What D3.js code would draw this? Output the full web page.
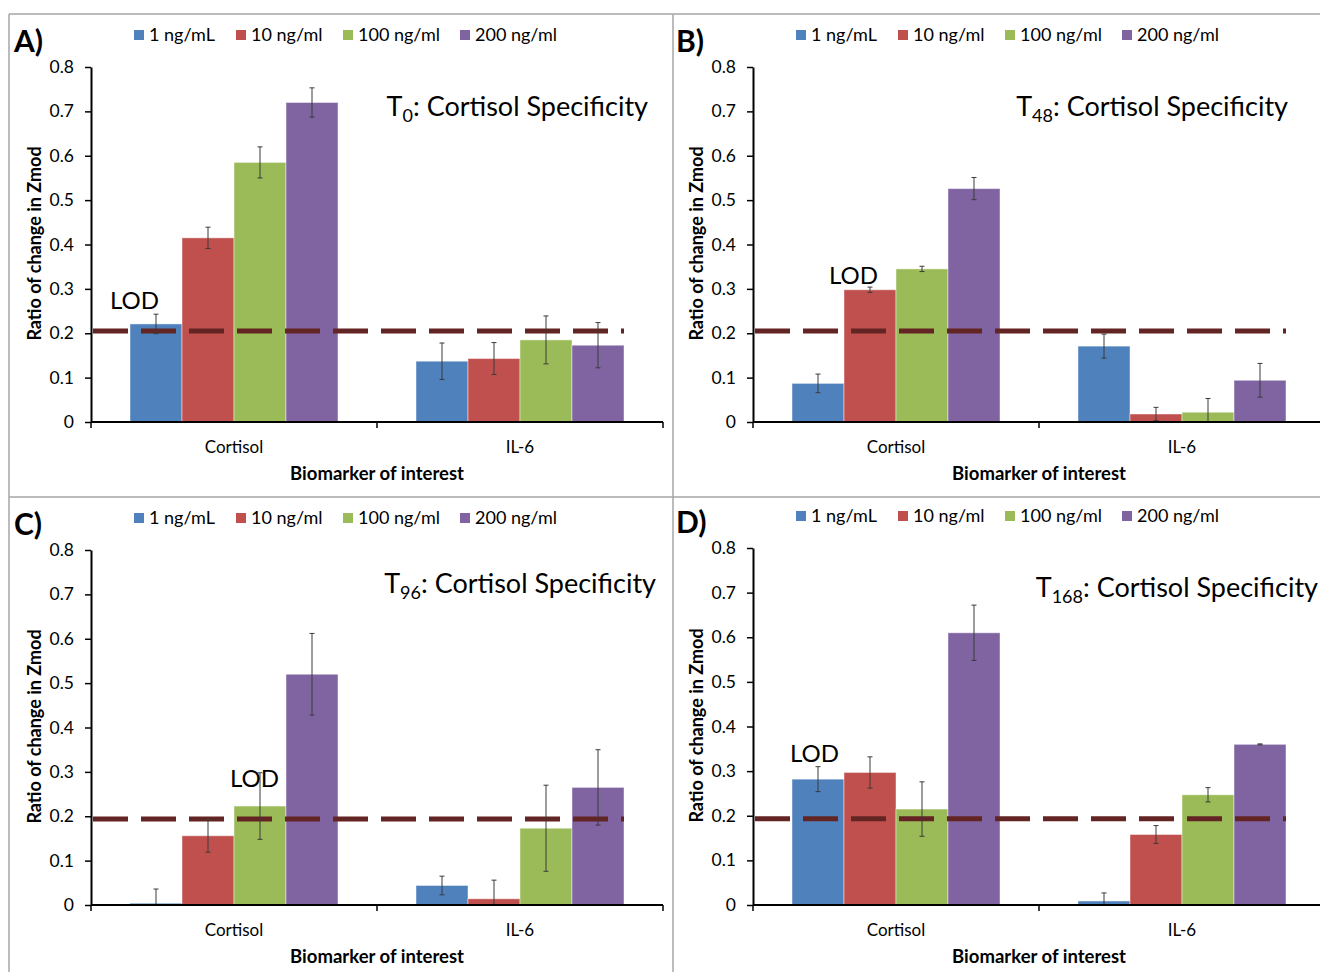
<!DOCTYPE html>
<html>
<head>
<meta charset="utf-8">
<script src="https://cdn.jsdelivr.net/npm/d3@7/dist/d3.min.js"></script>
<style>
  body { margin: 0; background: #fff; }
  svg { display: block; font-family: Lato, "Open Sans", sans-serif; }
</style>
</head>
<body>
<svg id="chart" width="1320" height="972"></svg>
<script>
// data
var categories = ["Cortisol", "IL-6"];
var seriesNames = ["1 ng/mL", "10 ng/ml", "100 ng/ml", "200 ng/ml"];
var seriesColors = ["#4F81BD", "#C0504D", "#9BBB59", "#8064A2"];
var yTicks = [0, 0.1, 0.2, 0.3, 0.4, 0.5, 0.6, 0.7, 0.8];

// values per category, one entry per series
var valuesA = [[0.221, 0.415, 0.585, 0.720], [0.137, 0.143, 0.185, 0.173]];
var errorsA = [[0.022, 0.024, 0.035, 0.033], [0.041, 0.036, 0.054, 0.051]];
var valuesB = [[0.087, 0.298, 0.345, 0.526], [0.171, 0.018, 0.022, 0.094]];
var errorsB = [[0.021, 0.006, 0.006, 0.025], [0.027, 0.015, 0.031, 0.038]];
var valuesC = [[0.004, 0.156, 0.223, 0.520], [0.044, 0.014, 0.173, 0.265]];
var errorsC = [[0.032, 0.037, 0.075, 0.092], [0.021, 0.042, 0.097, 0.085]];
var valuesD = [[0.282, 0.297, 0.215, 0.610], [0.009, 0.158, 0.247, 0.360]];
var errorsD = [[0.028, 0.035, 0.061, 0.062], [0.018, 0.020, 0.016, 0.001]];
var lodValues = [0.205, 0.205, 0.194, 0.193];
var panelLetters = ["A)", "B)", "C)", "D)"];
var timeSubs = ["0", "48", "96", "168"];

// layout of each panel (plot area in pixels + where the free text boxes sit)
var panels = [
  {left: 91,  top: 67,  bottom: 422, titleRight: 648,  titleY: 107, lodX: 110, lodY: 300, values: valuesA, errors: errorsA},
  {left: 753, top: 67,  bottom: 422, titleRight: 1288, titleY: 107, lodX: 829, lodY: 275, values: valuesB, errors: errorsB},
  {left: 91,  top: 550, bottom: 905, titleRight: 656,  titleY: 584, lodX: 230, lodY: 778, values: valuesC, errors: errorsC},
  {left: 753, top: 548, bottom: 905, titleRight: 1318, titleY: 588, lodX: 790, lodY: 753, values: valuesD, errors: errorsD}
];
var plotWidth = 572;

var svg = d3.select("#chart");

// panel frames
var frame = svg.append("g").attr("stroke", "#a6a6a6").attr("stroke-width", 1.5);
frame.append("line").attr("x1", 9).attr("x2", 1320).attr("y1", 14).attr("y2", 14);
frame.append("line").attr("x1", 9).attr("x2", 1320).attr("y1", 497).attr("y2", 497);
frame.append("line").attr("x1", 9).attr("x2", 9).attr("y1", 14).attr("y2", 972);
frame.append("line").attr("x1", 673).attr("x2", 673).attr("y1", 14).attr("y2", 972);

panels.forEach(function(p, pi){
  var g = svg.append("g");

  var x0 = d3.scaleBand().domain(categories).range([p.left, p.left + plotWidth]).padding(0);
  var x1 = d3.scaleBand().domain(seriesNames).range([0, x0.bandwidth()]).paddingInner(0).paddingOuter(0.75);
  var y = d3.scaleLinear().domain([0, 0.8]).range([p.bottom, p.top]);

  // bars
  categories.forEach(function(cat, ci){
    var grp = g.append("g").attr("transform", "translate(" + x0(cat) + ",0)");
    grp.selectAll("rect").data(p.values[ci]).enter().append("rect")
      .attr("x", function(d, i){ return x1(seriesNames[i]); })
      .attr("y", function(d){ return y(d); })
      .attr("width", x1.bandwidth())
      .attr("height", function(d){ return y(0) - y(d); })
      .attr("fill", function(d, i){ return seriesColors[i]; })
      .attr("stroke", "rgba(255,255,255,0.45)")
      .attr("stroke-width", 1);
  });

  // LOD dashed line, from the axis to the right edge of the last bar
  var lastCat = categories[categories.length - 1];
  var lodEnd = x0(lastCat) + x1(seriesNames[seriesNames.length - 1]) + x1.bandwidth();
  g.append("line")
    .attr("x1", p.left + 2).attr("x2", lodEnd)
    .attr("y1", y(lodValues[pi])).attr("y2", y(lodValues[pi]))
    .attr("stroke", "#632523").attr("stroke-width", 5)
    .attr("stroke-dasharray", "35,13");

  // error bars
  categories.forEach(function(cat, ci){
    p.values[ci].forEach(function(v, i){
      var cx = x0(cat) + x1(seriesNames[i]) + x1.bandwidth() / 2;
      var hi = v + p.errors[ci][i], lo = Math.max(0, v - p.errors[ci][i]);
      var eb = g.append("g").attr("stroke", "#3a3a3a").attr("stroke-width", 1);
      eb.append("line").attr("x1", cx).attr("x2", cx).attr("y1", y(hi)).attr("y2", y(lo));
      eb.append("line").attr("x1", cx - 2.5).attr("x2", cx + 2.5).attr("y1", y(hi)).attr("y2", y(hi));
      if(v - p.errors[ci][i] > 0)
        eb.append("line").attr("x1", cx - 2.5).attr("x2", cx + 2.5).attr("y1", y(lo)).attr("y2", y(lo));
    });
  });

  // y axis
  var yAxis = d3.axisLeft(y).tickValues(yTicks).tickSize(6).tickSizeOuter(0)
    .tickFormat(function(d){ return d === 0 ? "0" : d3.format(".1f")(d); });
  var ya = g.append("g").attr("transform", "translate(" + p.left + ",0)").call(yAxis);
  ya.select(".domain").attr("stroke", "#000").attr("stroke-width", 2);
  ya.selectAll(".tick line").attr("stroke", "#000").attr("stroke-width", 1.5);
  ya.selectAll(".tick text").attr("font-size", 17.5).attr("fill", "#000").attr("x", -17)
    .attr("font-family", "Lato, sans-serif");

  // x axis line with boundary ticks
  var xa = g.append("g");
  xa.append("line").attr("x1", p.left).attr("x2", p.left + plotWidth)
    .attr("y1", y(0)).attr("y2", y(0)).attr("stroke", "#000").attr("stroke-width", 2);
  [p.left, p.left + x0.bandwidth(), p.left + plotWidth].forEach(function(tx){
    xa.append("line").attr("x1", tx).attr("x2", tx).attr("y1", y(0)).attr("y2", y(0) + 6)
      .attr("stroke", "#000").attr("stroke-width", 1.5);
  });
  xa.selectAll("text.cat").data(categories).enter().append("text")
    .attr("class", "cat")
    .attr("x", function(d){ return x0(d) + x0.bandwidth() / 2; })
    .attr("y", y(0) + 31)
    .attr("text-anchor", "middle").attr("font-size", 17)
    .text(function(d){ return d; });

  // axis titles
  g.append("text").attr("x", p.left + x0.bandwidth()).attr("y", y(0) + 58)
    .attr("text-anchor", "middle").attr("font-size", 18.5).attr("font-weight", "bold")
    .text("Biomarker of interest");
  g.append("text")
    .attr("transform", "translate(" + (p.left - 50) + "," + ((p.top + p.bottom) / 2 - 1) + ") rotate(-90)")
    .attr("text-anchor", "middle").attr("font-size", 18).attr("font-weight", "bold")
    .text("Ratio of change in Zmod");

  // legend
  var leg = g.append("g").attr("transform", "translate(" + p.left + "," + (p.top - 32) + ")");
  var legX = [43, 145, 252, 369];
  seriesNames.forEach(function(name, i){
    leg.append("rect").attr("x", legX[i]).attr("y", -5).attr("width", 10).attr("height", 10)
      .attr("fill", seriesColors[i]);
    leg.append("text").attr("x", legX[i] + 15).attr("y", 6).attr("font-size", 18)
      .text(name);
  });

  // panel letter
  g.append("text").attr("x", p.left - 77).attr("y", p.top - 15)
    .attr("font-size", 30).attr("font-weight", "bold").text(panelLetters[pi]);

  // title with subscript
  var t = g.append("text").attr("x", p.titleRight).attr("y", p.titleY + 9)
    .attr("text-anchor", "end").attr("font-size", 27);
  t.append("tspan").text("T");
  t.append("tspan").attr("font-size", 18).attr("dy", 6).text(timeSubs[pi]);
  t.append("tspan").attr("dy", -6).text(": Cortisol Specificity");

  // LOD label
  g.append("text").attr("x", p.lodX).attr("y", p.lodY + 9).attr("font-size", 24).text("LOD");
});
</script>
</body>
</html>
